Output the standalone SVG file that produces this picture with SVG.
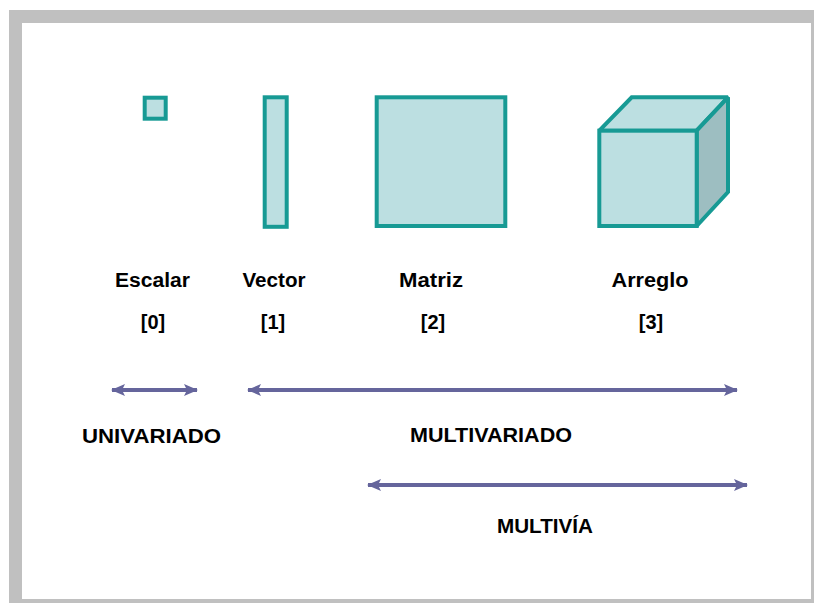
<svg xmlns="http://www.w3.org/2000/svg" width="814" height="603" viewBox="0 0 814 603">
<style>
.shape{fill:#bcdfe1;stroke:#179a94;stroke-width:4;stroke-linejoin:miter;stroke-miterlimit:2}
.side{fill:#9dbec1;stroke:#179a94;stroke-width:4;stroke-linejoin:miter;stroke-miterlimit:2}
.lbl{font-family:"Liberation Sans",Arial,sans-serif;font-weight:bold;font-size:20px;fill:#000}
.big{font-size:21px}
.arr{stroke:#65659c;stroke-width:4;fill:none}
</style>
<defs>
<marker id="ah" viewBox="0 0 14 12" refX="13" refY="6" markerWidth="14" markerHeight="12" markerUnits="userSpaceOnUse" orient="auto-start-reverse">
<path d="M0,0 L14,6 L0,12 L3,6 Z" fill="#65659c"/>
</marker>
</defs>
<rect x="9" y="10" width="805" height="593" fill="#c0c0c0"/>
<rect x="22" y="23" width="789" height="576" fill="#ffffff"/>
<g id="escalar">
<rect class="shape" x="144.7" y="97.7" width="21" height="21"/>
<text class="lbl" x="152.5" y="287" text-anchor="middle" textLength="75" lengthAdjust="spacingAndGlyphs">Escalar</text>
<text class="lbl" x="153" y="329" text-anchor="middle">[0]</text>
</g>
<g id="vector">
<rect class="shape" x="264.7" y="97.3" width="22" height="129.5"/>
<text class="lbl" x="274" y="287" text-anchor="middle" textLength="63" lengthAdjust="spacingAndGlyphs">Vector</text>
<text class="lbl" x="273" y="329" text-anchor="middle">[1]</text>
</g>
<g id="matriz">
<rect class="shape" x="376.7" y="97.3" width="128.6" height="128.7"/>
<text class="lbl" x="431" y="287" text-anchor="middle" textLength="64" lengthAdjust="spacingAndGlyphs">Matriz</text>
<text class="lbl" x="433" y="329" text-anchor="middle">[2]</text>
</g>
<g id="arreglo">
<polygon class="shape" points="599.3,130.7 631.7,97.3 728,97.3 696.7,130.7"/>
<polygon class="side" points="696.7,130.7 728,97.3 728,192 696.7,226"/>
<rect class="shape" x="599.3" y="130.7" width="97.4" height="95.3"/>
<text class="lbl" x="650" y="287" text-anchor="middle" textLength="77" lengthAdjust="spacingAndGlyphs">Arreglo</text>
<text class="lbl" x="651" y="329" text-anchor="middle">[3]</text>
</g>
<g id="connectors">
<line class="arr" x1="112" y1="390" x2="197" y2="390" marker-start="url(#ah)" marker-end="url(#ah)"/>
<line class="arr" x1="248" y1="390" x2="737" y2="390" marker-start="url(#ah)" marker-end="url(#ah)"/>
<line class="arr" x1="368" y1="485" x2="747" y2="485" marker-start="url(#ah)" marker-end="url(#ah)"/>
</g>
<g id="labels">
<text class="lbl big" x="82" y="443" textLength="139" lengthAdjust="spacingAndGlyphs">UNIVARIADO</text>
<text class="lbl big" x="410" y="442" textLength="162" lengthAdjust="spacingAndGlyphs">MULTIVARIADO</text>
<text class="lbl big" x="497" y="533" textLength="96" lengthAdjust="spacingAndGlyphs">MULTIVÍA</text>
</g>
</svg>
